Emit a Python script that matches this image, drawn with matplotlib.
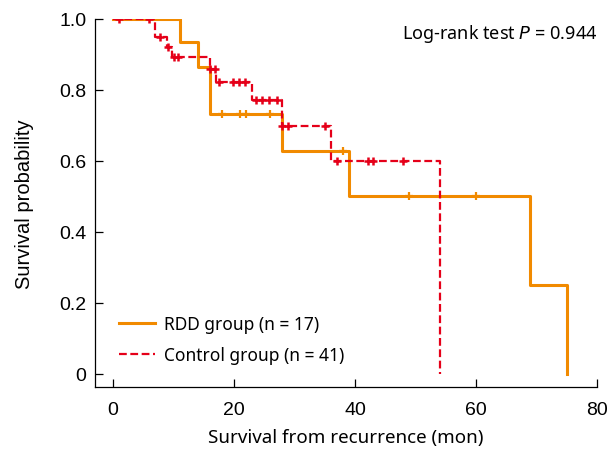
import matplotlib
matplotlib.use("Agg")
import matplotlib.pyplot as plt
import numpy as np

# Kaplan-Meier steps (time in months, survival probability)
rdd_times = [0, 11, 14, 16, 28, 39, 69, 75]
rdd_surv = [1.0, 0.935, 0.866, 0.732, 0.627, 0.502, 0.251, 0.0]
rdd_censor = [18, 21, 22, 26, 38, 49, 60]

ctrl_times = [0, 7, 9, 9.7, 16, 17, 23, 28, 36, 54]
ctrl_surv = [1.0, 0.948, 0.920, 0.892, 0.859, 0.822, 0.772, 0.699, 0.600, 0.0]
ctrl_censor = [1, 6, 7.8, 9.1, 10.1, 10.8, 16, 16.9, 17.6, 19.9, 20.9, 21.8,
               23.7, 24.7, 25.8, 27.1, 28, 29, 35, 37, 42.2, 43, 48]

rdd_label = "RDD group (n = 17)"
ctrl_label = "Control group (n = 41)"
pval_text = "Log-rank test $\\mathit{P}$ = 0.944"

orange = "#F18A00"
red = "#E50019"
body_font = "Noto Sans"
tick_font = "Liberation Sans"


def surv_at(times, surv, t):
    # value of the step function at time t
    i = np.searchsorted(times, t, side="right") - 1
    return np.array(surv)[i]


fig = plt.figure(figsize=(6.08, 4.52), dpi=100)
ax = fig.add_axes([0.156, 0.1416, 0.826, 0.8142])

ax.step(rdd_times, rdd_surv, where="post", color=orange, lw=2.2,
        label=rdd_label, zorder=2)
ax.step(ctrl_times, ctrl_surv, where="post", color=red, lw=1.6,
        linestyle=(0, (3.5, 1.6)), label=ctrl_label, zorder=3)

ax.plot(rdd_censor, surv_at(rdd_times, rdd_surv, rdd_censor), "+",
        color=orange, ms=6, mew=1.6, zorder=2)
ax.plot(ctrl_censor, surv_at(ctrl_times, ctrl_surv, ctrl_censor), "+",
        color=red, ms=6, mew=1.8, zorder=3)

ax.set_xlim(-3, 80)
ax.set_ylim(-0.037, 1.0)
ax.set_xticks([0, 20, 40, 60, 80])
ax.set_yticks([0, 0.2, 0.4, 0.6, 0.8, 1.0])
ax.set_yticklabels(["0", "0.2", "0.4", "0.6", "0.8", "1.0"])

for s in ["top", "right"]:
    ax.spines[s].set_visible(False)
for s in ["left", "bottom"]:
    ax.spines[s].set_linewidth(0.9)

ax.tick_params(direction="in", length=5.5, width=0.9, labelsize=14)
ax.tick_params(axis="x", pad=10)
ax.tick_params(axis="y", pad=6)
for lab in ax.get_xticklabels() + ax.get_yticklabels():
    lab.set_fontfamily(tick_font)

ax.set_xlabel("Survival from recurrence (mon)", fontsize=13.5,
              family=body_font, labelpad=7)
ax.set_ylabel("Survival probability", fontsize=14.5, family=tick_font)
ax.yaxis.set_label_coords(-0.122, 0.5)

ax.text(1.0, 0.962, pval_text, transform=ax.transAxes, ha="right",
        va="center", fontsize=13, family=body_font)

leg = ax.legend(loc="lower left", bbox_to_anchor=(0.016, 0.02), frameon=False,
                prop={"family": body_font, "size": 12.5}, handlelength=2.1,
                labelspacing=0.75, handletextpad=0.5)

fig.savefig("out.png", dpi=100)
